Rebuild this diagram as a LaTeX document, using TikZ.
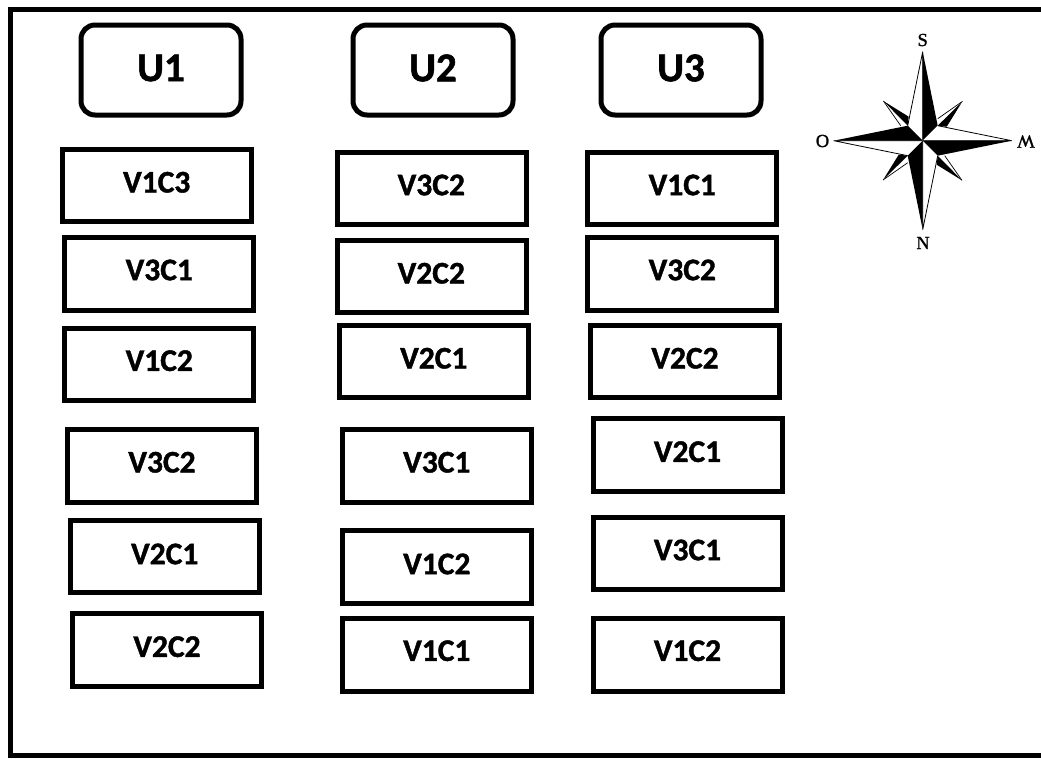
\documentclass[tikz,border=0pt]{standalone}
\usepackage{fontspec}
\setmainfont[BoldFeatures={FakeBold=1.3}]{Carlito}
\newfontfamily\compassfont[FakeBold=1.2]{Liberation Serif}
\tikzset{
  x=1pt,y=-1pt,
  frame/.style={line width=5pt,draw=black,line cap=butt,line join=miter},
  unitbox/.style={draw=black,line width=5pt,rounded corners=14pt,minimum width=160pt,minimum height=90pt,inner sep=0pt,outer sep=0pt},
  cellbox/.style={draw=black,line width=5pt,minimum width=189pt,minimum height=72.6pt,inner sep=0pt,outer sep=0pt},
  unitlabel/.style={font=\fontsize{41}{41}\bfseries\selectfont,inner sep=0pt,text=black},
  celllabel/.style={font=\fontsize{31.5}{31.5}\bfseries\selectfont,inner sep=0pt,text=black},
  dirlabel/.style={font=\compassfont\fontsize{18.5}{18.5}\selectfont,inner sep=0pt,text=black},
}
% name, box centre x,y, label centre x,y, text
\newcommand{\cell}[6]{%
  \node[cellbox] (#1) at (#2,#3) {};
  \node[celllabel,anchor=center] (#1t) at (#4,#5) {\vphantom{V}#6};
}
\begin{document}
\begin{tikzpicture}
\useasboundingbox (0,0) rectangle (1041,758);
\fill[white] (0,0) rectangle (1041,758);
% outer frame (open at the right, where the picture cuts it)
\coordinate (ftr) at (1041,9);
\coordinate (ftl) at (10,9);
\coordinate (fbl) at (10,755);
\coordinate (fbr) at (1041,755);
\draw[frame] (ftr) -- (ftl) -- (fbl) -- (fbr);
% unit headers
\node[unitbox] (u1) at (161,70) {};
\node[unitbox] (u2) at (433,70) {};
\node[unitbox] (u3) at (681,70) {};
\node[unitlabel] (u1t) at (161,68) {U1};
\node[unitlabel] (u2t) at (433,68) {U2};
\node[unitlabel] (u3t) at (681,68) {U3};
% column 1
\cell{a1}{156.9}{185.3}{156.7}{182.3}{V1C3}
\cell{a2}{159.3}{273.7}{159.3}{270}{V3C1}
\cell{a3}{159.3}{364.5}{159.3}{360.7}{V1C2}
\cell{a4}{162.3}{465.7}{162}{462.3}{V3C2}
\cell{a5}{164.7}{556.5}{164.7}{554}{V2C1}
\cell{a6}{167.3}{649.7}{167}{646.7}{V2C2}
% column 2
\cell{b1}{431.7}{188.3}{431.3}{185}{V3C2}
\cell{b2}{431.7}{276.3}{431.3}{273.3}{V2C2}
\cell{b3}{434.2}{361.5}{433.8}{358.3}{V2C1}
\cell{b4}{437}{465.7}{436.8}{462.3}{V3C1}
\cell{b5}{437}{567.2}{436.8}{564}{V1C2}
\cell{b6}{437}{655}{436.8}{650.7}{V1C1}
% column 3
\cell{c1}{682.3}{188.3}{682.3}{185}{V1C1}
\cell{c2}{682.3}{273.7}{682.3}{270}{V3C2}
\cell{c3}{684.9}{361.5}{685}{358.3}{V2C2}
\cell{c4}{687.7}{455.2}{687.5}{451.7}{V2C1}
\cell{c5}{687.7}{553.5}{687.5}{550}{V3C1}
\cell{c6}{687.7}{655}{687.5}{650.7}{V1C2}
% compass rose
\begin{scope}[shift={(922.7,140.7)}]
  \foreach \r in {0,90,180,270}{
    \begin{scope}[rotate=\r]
      \fill[white] (-39.3,-39.7) -- (-14,-22) -- (-15,-15) -- (-22,-15) -- cycle;
      \draw[line width=0.7pt] (-39.3,-39.7) -- (-22,-15);
      \fill[black] (-39.3,-39.7) -- (-14,-24) -- (-15,-15) -- cycle;
    \end{scope}
  }
  \foreach \r in {0,90,180,270}{
    \begin{scope}[rotate=\r]
      \fill[white] (0,-89) -- (-15,-15) -- (0,0) -- cycle;
      \draw[line width=0.8pt,line join=miter] (0,0) -- (0,-89) -- (-15,-15);
      \fill[black] (0,-89) -- (15,-15) -- (0,0) -- cycle;
    \end{scope}
  }
\end{scope}
\node[dirlabel] (ds) at (922.7,40) {S};
\node[dirlabel] (dn) at (923,243) {N};
\node[dirlabel] (do) at (822.5,141) {O};
\node[dirlabel,rotate=180] (dw) at (1026,141.5) {W};
\end{tikzpicture}
\end{document}
